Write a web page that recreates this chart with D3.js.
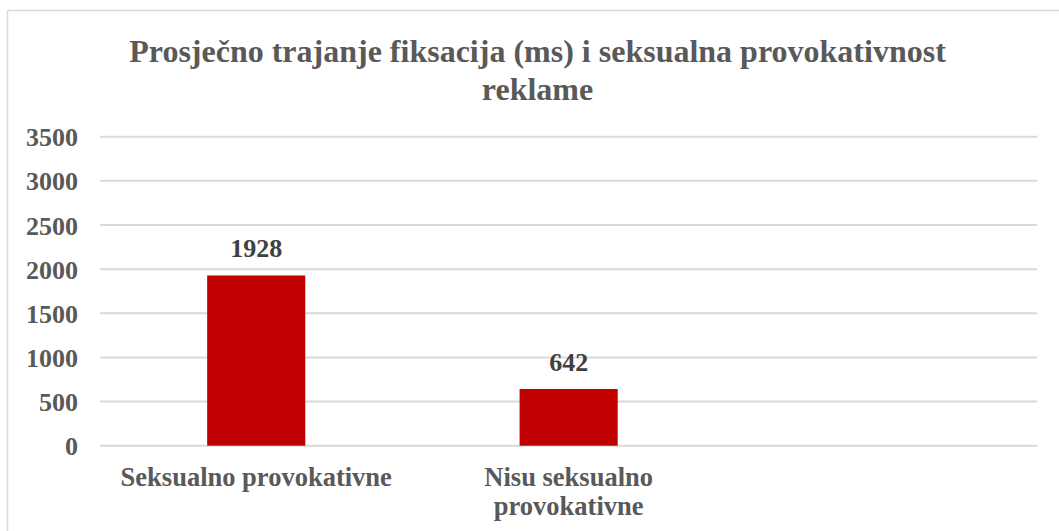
<!DOCTYPE html>
<html>
<head>
<meta charset="utf-8">
<script src="https://cdn.jsdelivr.net/npm/d3@7"></script>
<style>
  html, body { margin: 0; padding: 0; background: #fff; }
  svg { display: block; }
  text { font-family: "Liberation Serif", "Times New Roman", serif; font-weight: bold; }
</style>
</head>
<body>
<svg id="chart" width="1059" height="531"></svg>
<script>
const titleLines = ["Prosječno trajanje fiksacija (ms) i seksualna provokativnost", "reklame"];
const categories = ["Seksualno provokativne", "Nisu seksualno provokativne", ""];
const values = [1928, 642];
const yTicks = [0, 500, 1000, 1500, 2000, 2500, 3000, 3500];

const svg = d3.select("#chart");

// outer frame
svg.append("rect")
  .attr("x", 7.5).attr("y", 10.5)
  .attr("width", 1100).attr("height", 600)
  .attr("fill", "none").attr("stroke", "#d9d9d9").attr("stroke-width", 1.5);

// title
const title = svg.append("text")
  .attr("x", 537.5).attr("y", 62)
  .attr("text-anchor", "middle")
  .attr("fill", "#595959")
  .style("font-size", "32px");
titleLines.forEach((t, i) => {
  title.append("tspan").attr("x", 537.5).attr("dy", i === 0 ? 0 : 38).text(t);
});

const x = d3.scaleBand().domain(categories).range([100, 1037.3])
  .paddingInner(0.686).paddingOuter(0.343);
const y = d3.scaleLinear().domain([0, 3500]).range([445.7, 136.7]);

// gridlines
svg.append("g").selectAll("line").data(yTicks).join("line")
  .attr("x1", 100).attr("x2", 1037.3)
  .attr("y1", d => y(d)).attr("y2", d => y(d))
  .attr("stroke", "#d9d9d9").attr("stroke-width", 2);

// y axis labels
const yAxis = d3.axisLeft(y).tickValues(yTicks).tickFormat(d3.format("d")).tickSize(0).tickPadding(0);
const gy = svg.append("g").attr("transform", "translate(78,0)").call(yAxis);
gy.select(".domain").remove();
gy.selectAll("text")
  .attr("fill", "#595959")
  .style("font-size", "26px")
  .style("font-family", "'Liberation Serif', 'Times New Roman', serif")
  .style("font-weight", "bold")
  .attr("dy", "0.35em");

// bars
const barData = values.map((v, i) => ({ c: categories[i], v }));
svg.append("g").selectAll("rect").data(barData).join("rect")
  .attr("x", d => x(d.c))
  .attr("y", d => y(d.v))
  .attr("width", x.bandwidth())
  .attr("height", d => y(0) - y(d.v))
  .attr("fill", "#c00000");

// data labels
svg.append("g").selectAll("text").data(barData).join("text")
  .attr("x", d => x(d.c) + x.bandwidth() / 2)
  .attr("y", d => y(d.v) - 18)
  .attr("text-anchor", "middle")
  .attr("fill", "#404040")
  .style("font-size", "26px")
  .text(d => d.v);

// x axis labels (wrapped within step)
const xAxis = d3.axisBottom(x).tickSize(0).tickPadding(0);
const gx = svg.append("g").attr("transform", "translate(0,486)").call(xAxis);
gx.select(".domain").remove();
gx.selectAll("text")
  .attr("fill", "#595959")
  .attr("dy", 0)
  .attr("y", 0)
  .style("font-size", "26.5px")
  .style("font-family", "'Liberation Serif', 'Times New Roman', serif")
  .style("font-weight", "bold")
  .each(function(d) {
    const el = d3.select(this);
    const words = d.split(" ").filter(w => w);
    el.text(null);
    const maxW = x.step() - 20;
    let line = [];
    let tspan = el.append("tspan").attr("x", 0).attr("dy", 0);
    words.forEach(w => {
      line.push(w);
      tspan.text(line.join(" "));
      if (tspan.node().getComputedTextLength() > maxW && line.length > 1) {
        line.pop();
        tspan.text(line.join(" "));
        line = [w];
        tspan = el.append("tspan").attr("x", 0).attr("dy", 29).text(w);
      }
    });
  });
</script>
</body>
</html>
